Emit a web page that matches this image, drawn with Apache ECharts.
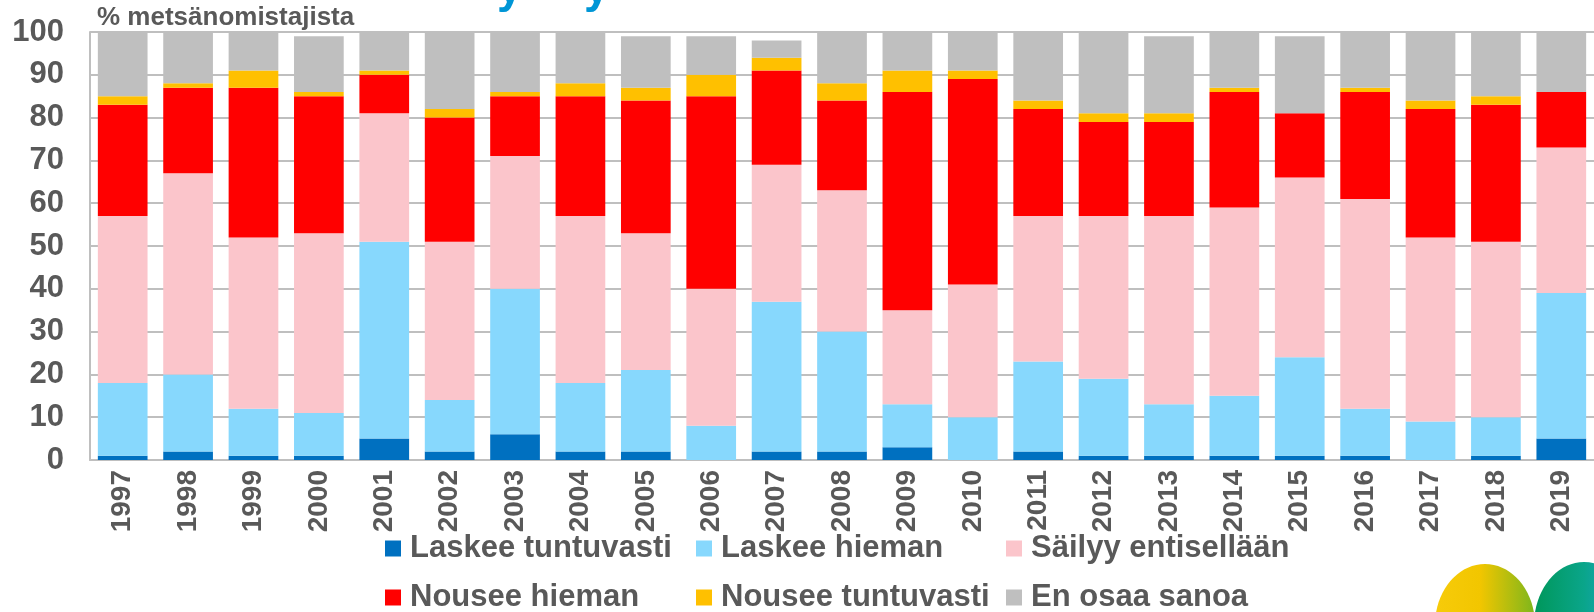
<!DOCTYPE html>
<html>
<head>
<meta charset="utf-8">
<script src="https://cdn.jsdelivr.net/npm/echarts@6/dist/echarts.min.js"></script>
<style>
  html, body { margin: 0; padding: 0; background: #fff; }
  #chart { width: 1594px; height: 612px; }
</style>
</head>
<body>
<div id="chart"></div>
<script>
// vuodet
var years = ['1997','1998','1999','2000','2001','2002','2003','2004','2005','2006','2007','2008',
             '2009','2010','2011','2012','2013','2014','2015','2016','2017','2018','2019'];
// osuudet, % metsänomistajista
var laskeeTuntuvasti = [1,2,1,1,5,2,6,2,2,0,2,2,3,0,2,1,1,1,1,1,0,1,5];
var laskeeHieman     = [17,18,11,10,46,12,34,16,19,8,35,28,10,10,21,18,12,14,23,11,9,9,34];
var sailyy           = [39,47,40,42,30,37,31,39,32,32,32,33,22,31,34,38,44,44,42,49,43,41,34];
var nouseeHieman     = [26,20,35,32,9,29,14,28,31,45,22,21,51,48,25,22,22,27,15,25,30,32,13];
var nouseeTuntuvasti = [2,1,4,1,1,2,1,3,3,5,3,4,5,2,2,2,2,1,0,1,2,2,0];
var enOsaa           = [15,12,9,13,9,18,14,12,12,9,4,12,9,9,16,19,18,13,18,13,16,15,14];
var yTicks = [0,10,20,30,40,50,60,70,80,90,100];

var seriesDefs = [
  {name:'Laskee tuntuvasti', data:laskeeTuntuvasti, color:'#0070C0'},
  {name:'Laskee hieman', data:laskeeHieman, color:'#87D8FD'},
  {name:'Säilyy entisellään', data:sailyy, color:'#FBC5CB'},
  {name:'Nousee hieman', data:nouseeHieman, color:'#FF0000'},
  {name:'Nousee tuntuvasti', data:nouseeTuntuvasti, color:'#FFC000'},
  {name:'En osaa sanoa', data:enOsaa, color:'#BFBFBF'}
];

var font = '"Liberation Sans", Arial, sans-serif';
var textGray = '#595959';

var seriesArr = [];
for (var i = 0; i < seriesDefs.length; i++) {
  seriesArr.push({
    name: seriesDefs[i].name,
    type: 'bar',
    stack: 'total',
    barCategoryGap: '24%',
    itemStyle: { color: seriesDefs[i].color },
    data: seriesDefs[i].data
  });
}

// selitteet kahdessa rivissä, sarakkeet tasattu
var legendLefts = [385, 696, 1006, 385, 696, 1006];
var legendTops = [533, 533, 533, 582, 582, 582];
var legends = [];
for (var j = 0; j < seriesDefs.length; j++) {
  legends.push({
    left: legendLefts[j],
    top: legendTops[j],
    padding: 0,
    itemWidth: 16,
    itemHeight: 16,
    icon: 'rect',
    selectedMode: false,
    data: [seriesDefs[j].name],
    textStyle: {
      color: textGray,
      fontFamily: font,
      fontWeight: 'bold',
      fontSize: 31,
      lineHeight: 30,
      padding: [0, 0, 0, 4]
    }
  });
}

var option = {
  animation: false,
  color: seriesDefs.map(function (d) { return d.color; }),
  grid: {
    left: 90,
    top: 32,
    width: 1508,
    height: 428,
    containLabel: false
  },
  legend: legends,
  xAxis: {
    type: 'category',
    data: years,
    axisTick: { show: false },
    axisLine: { lineStyle: { color: '#BFBFBF', width: 2 } },
    axisLabel: {
      rotate: 90,
      margin: 10,
      color: textGray,
      fontFamily: font,
      fontWeight: 'bold',
      fontSize: 28
    }
  },
  yAxis: {
    type: 'value',
    min: yTicks[0],
    max: yTicks[yTicks.length - 1],
    interval: 10,
    axisLine: { show: true, lineStyle: { color: '#BFBFBF', width: 2 } },
    axisTick: { show: false },
    splitLine: { lineStyle: { color: '#BFBFBF', width: 2 } },
    axisLabel: {
      margin: 26,
      color: textGray,
      fontFamily: font,
      fontWeight: 'bold',
      fontSize: 31
    }
  },
  graphic: [
    {
      type: 'text', left: 97, top: 5,
      style: { text: '% metsänomistajista', fill: textGray, font: 'bold 26px ' + font }
    },
    // otsikon alaosa näkyy kuvan yläreunassa
    { type: 'text', x: 497, y: -34, style: { text: 'y', fill: '#0096D6', font: 'bold 46px ' + font } },
    { type: 'text', x: 584, y: -34, style: { text: 'y', fill: '#0096D6', font: 'bold 46px ' + font } },
    // logo
    {
      type: 'ellipse', shape: { cx: 1485, cy: 625, rx: 50, ry: 61 },
      style: { fill: new echarts.graphic.LinearGradient(0, 0, 1, 0, [
        { offset: 0, color: '#F7CB0A' }, { offset: 0.45, color: '#F2C600' }, { offset: 1, color: '#7DB61C' }]) }
    },
    {
      type: 'ellipse', shape: { cx: 1584, cy: 625, rx: 50, ry: 63 },
      style: { fill: new echarts.graphic.LinearGradient(0, 0, 1, 0, [
        { offset: 0, color: '#00975A' }, { offset: 0.5, color: '#0AA58A' }, { offset: 1, color: '#1FA3DC' }]) }
    }
  ],
  series: seriesArr
};

var myChart = echarts.init(document.getElementById('chart'));
myChart.setOption(option);
</script>
</body>
</html>
